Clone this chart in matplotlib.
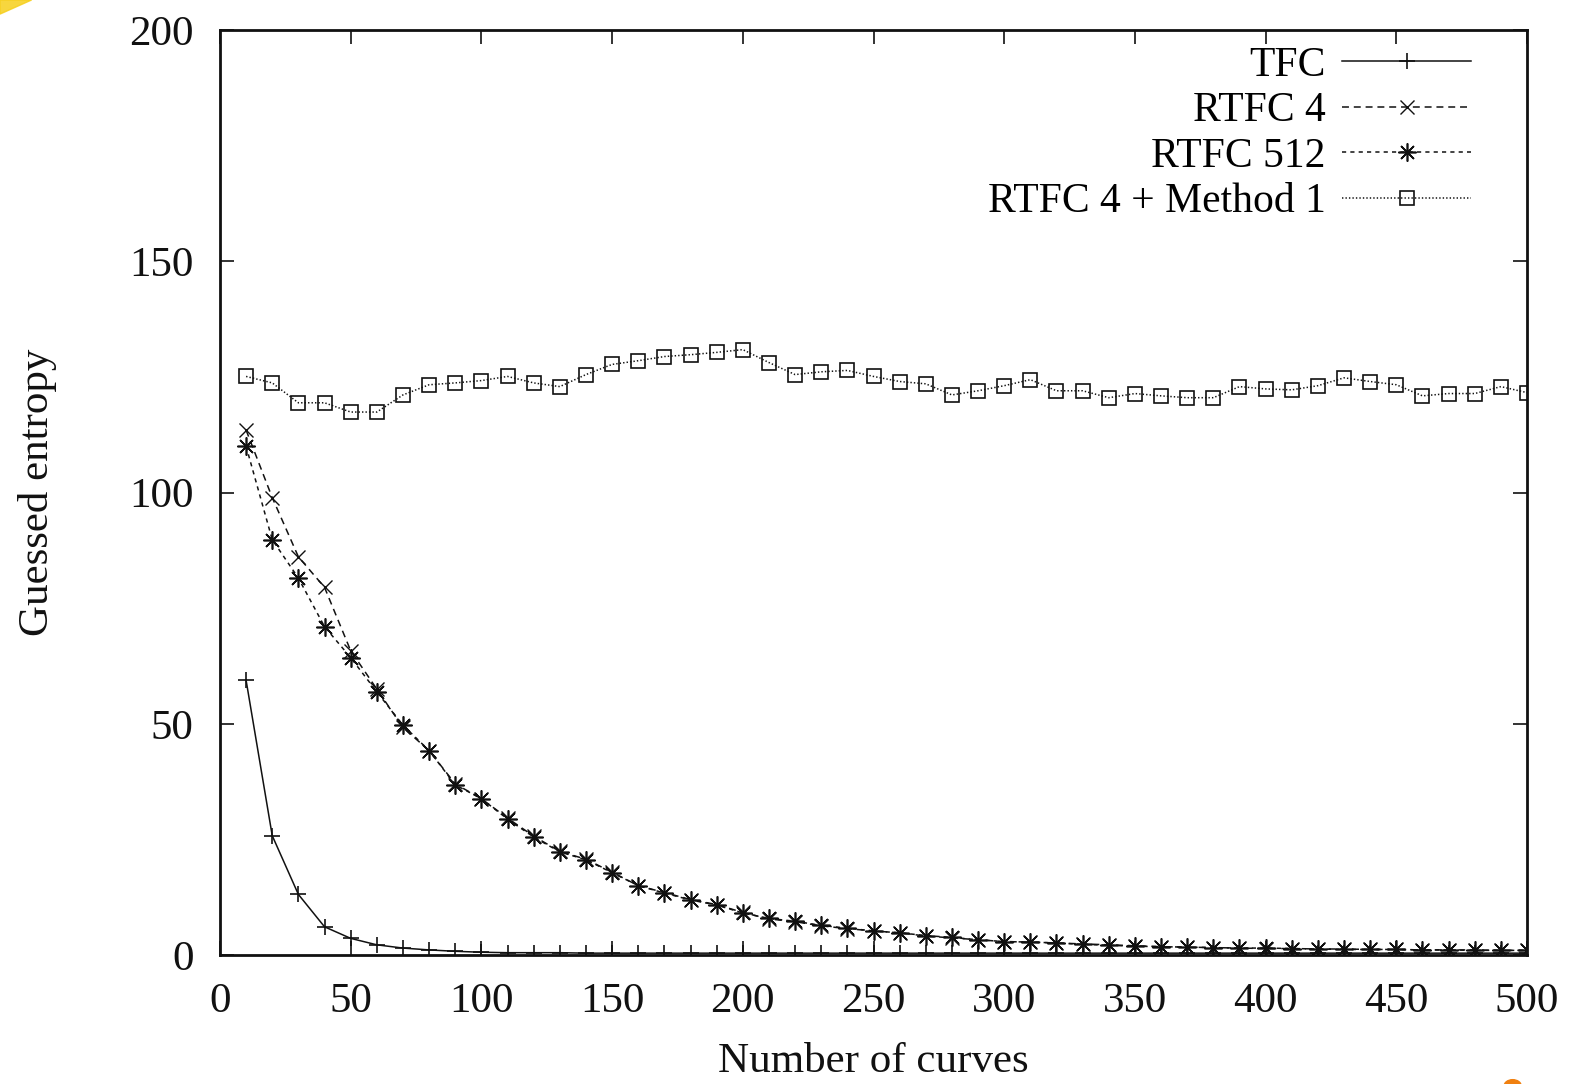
import matplotlib
matplotlib.use("Agg")
import matplotlib.pyplot as plt
from matplotlib.patches import Ellipse, Polygon

plt.rcParams['font.family'] = ['Liberation Serif', 'DejaVu Serif']
plt.rcParams['lines.scale_dashes'] = False

# number of curves
curves = list(range(10, 501, 10))

tfc = [59.4, 25.8, 13.1, 6.1, 3.6, 2.2, 1.5, 1.1, 0.8, 0.6,
       0.5, 0.5, 0.5, 0.4, 0.4, 0.4, 0.4, 0.4, 0.4, 0.4,
       0.4, 0.4, 0.4, 0.4, 0.4, 0.4, 0.4, 0.4, 0.4, 0.4,
       0.4, 0.4, 0.4, 0.4, 0.4, 0.4, 0.4, 0.4, 0.4, 0.4,
       0.4, 0.4, 0.4, 0.4, 0.4, 0.4, 0.4, 0.4, 0.4, 0.4]

rtfc4 = [113.5, 98.9, 86.1, 79.5, 65.8, 57.5, 49.2, 44.2, 37.0, 33.8,
         29.6, 25.7, 22.4, 20.7, 17.9, 15.0, 13.5, 12.0, 10.9, 9.2,
         7.8, 7.2, 6.3, 5.7, 5.2, 4.8, 4.1, 3.7, 3.3, 2.9,
         2.8, 2.6, 2.4, 2.2, 2.0, 1.8, 1.7, 1.6, 1.5, 1.4,
         1.4, 1.3, 1.3, 1.2, 1.2, 1.1, 1.1, 1.1, 1.0, 1.0]

rtfc512 = [110.0, 89.8, 81.5, 71.0, 64.3, 56.9, 49.7, 44.2, 36.8, 33.8,
           29.4, 25.5, 22.3, 20.6, 17.8, 15.0, 13.4, 11.9, 10.8, 9.1,
           7.9, 7.3, 6.4, 5.8, 5.2, 4.8, 4.2, 3.8, 3.3, 2.9,
           2.8, 2.6, 2.3, 2.1, 1.9, 1.8, 1.7, 1.6, 1.5, 1.5,
           1.4, 1.3, 1.2, 1.2, 1.2, 1.1, 1.1, 1.0, 1.0, 1.0]

method1 = [125.1, 123.7, 119.4, 119.4, 117.4, 117.4, 121.1, 123.3, 123.7, 124.2,
           125.1, 123.7, 122.9, 125.5, 127.7, 128.5, 129.4, 129.8, 130.3, 130.9,
           128.1, 125.5, 126.1, 126.4, 125.1, 124.0, 123.5, 121.1, 122.0, 123.1,
           124.4, 122.0, 122.0, 120.5, 121.4, 120.9, 120.5, 120.5, 122.9, 122.4,
           122.2, 123.1, 124.8, 124.0, 123.3, 120.9, 121.4, 121.4, 122.9, 121.6]

xticks = [0, 50, 100, 150, 200, 250, 300, 350, 400, 450, 500]
yticks = [0, 50, 100, 150, 200]

fig = plt.figure(figsize=(15.79, 10.84), dpi=100)

# bits of slide decoration in the corners
fig.patches.append(Polygon([(0, 1.0), (0.02, 1.0), (0, 0.987)], closed=True,
                           transform=fig.transFigure, color='#f6cf1c', alpha=0.85))
fig.patches.append(Ellipse((0.958, -0.002), 0.011, 0.012,
                           transform=fig.transFigure, color='#f08010'))

ax = fig.add_axes([0.1393, 0.119, 0.8278, 0.8533])

ink = '#111111'
ax.plot(curves, tfc, color=ink, lw=1.1, ls='-', marker='+', ms=12, mew=1.2,
        label='TFC')
ax.plot(curves, rtfc4, color=ink, lw=1.1, ls=(0, (5, 3.5)), marker='x', ms=10, mew=1.0,
        label='RTFC 4')
ax.plot(curves, rtfc512, color=ink, lw=1.1, ls=(0, (3, 3)), marker=(8, 2, 0), ms=13, mew=1.2,
        label='RTFC 512')
ax.plot(curves, method1, color=ink, lw=1.1, ls=(0, (1, 1.5)), marker='s', ms=10, mew=1.2,
        mfc='none', label='RTFC 4 + Method 1')

ax.set_xlim(0, 500)
ax.set_ylim(0, 200)
ax.set_xticks(xticks)
ax.set_yticks(yticks)
ax.tick_params(direction='in', length=10, width=1.2, top=True, right=True,
               labelsize=31, colors=ink)
ax.tick_params(axis='y', pad=19)
ax.tick_params(axis='x', pad=20)
for s in ax.spines.values():
    s.set_linewidth(2)
    s.set_color(ink)

ax.set_xlabel('Number of curves', fontsize=31, labelpad=15, color=ink)
ax.set_ylabel('Guessed entropy', fontsize=31, labelpad=52, color=ink)

leg = ax.legend(loc='upper right', frameon=False, markerfirst=False, fontsize=30,
                handlelength=3.1, handletextpad=0.4, labelspacing=0.17,
                borderaxespad=0.25, bbox_to_anchor=(0.978, 1.012), numpoints=1)

fig.savefig('out.png', dpi=100, facecolor='white')
